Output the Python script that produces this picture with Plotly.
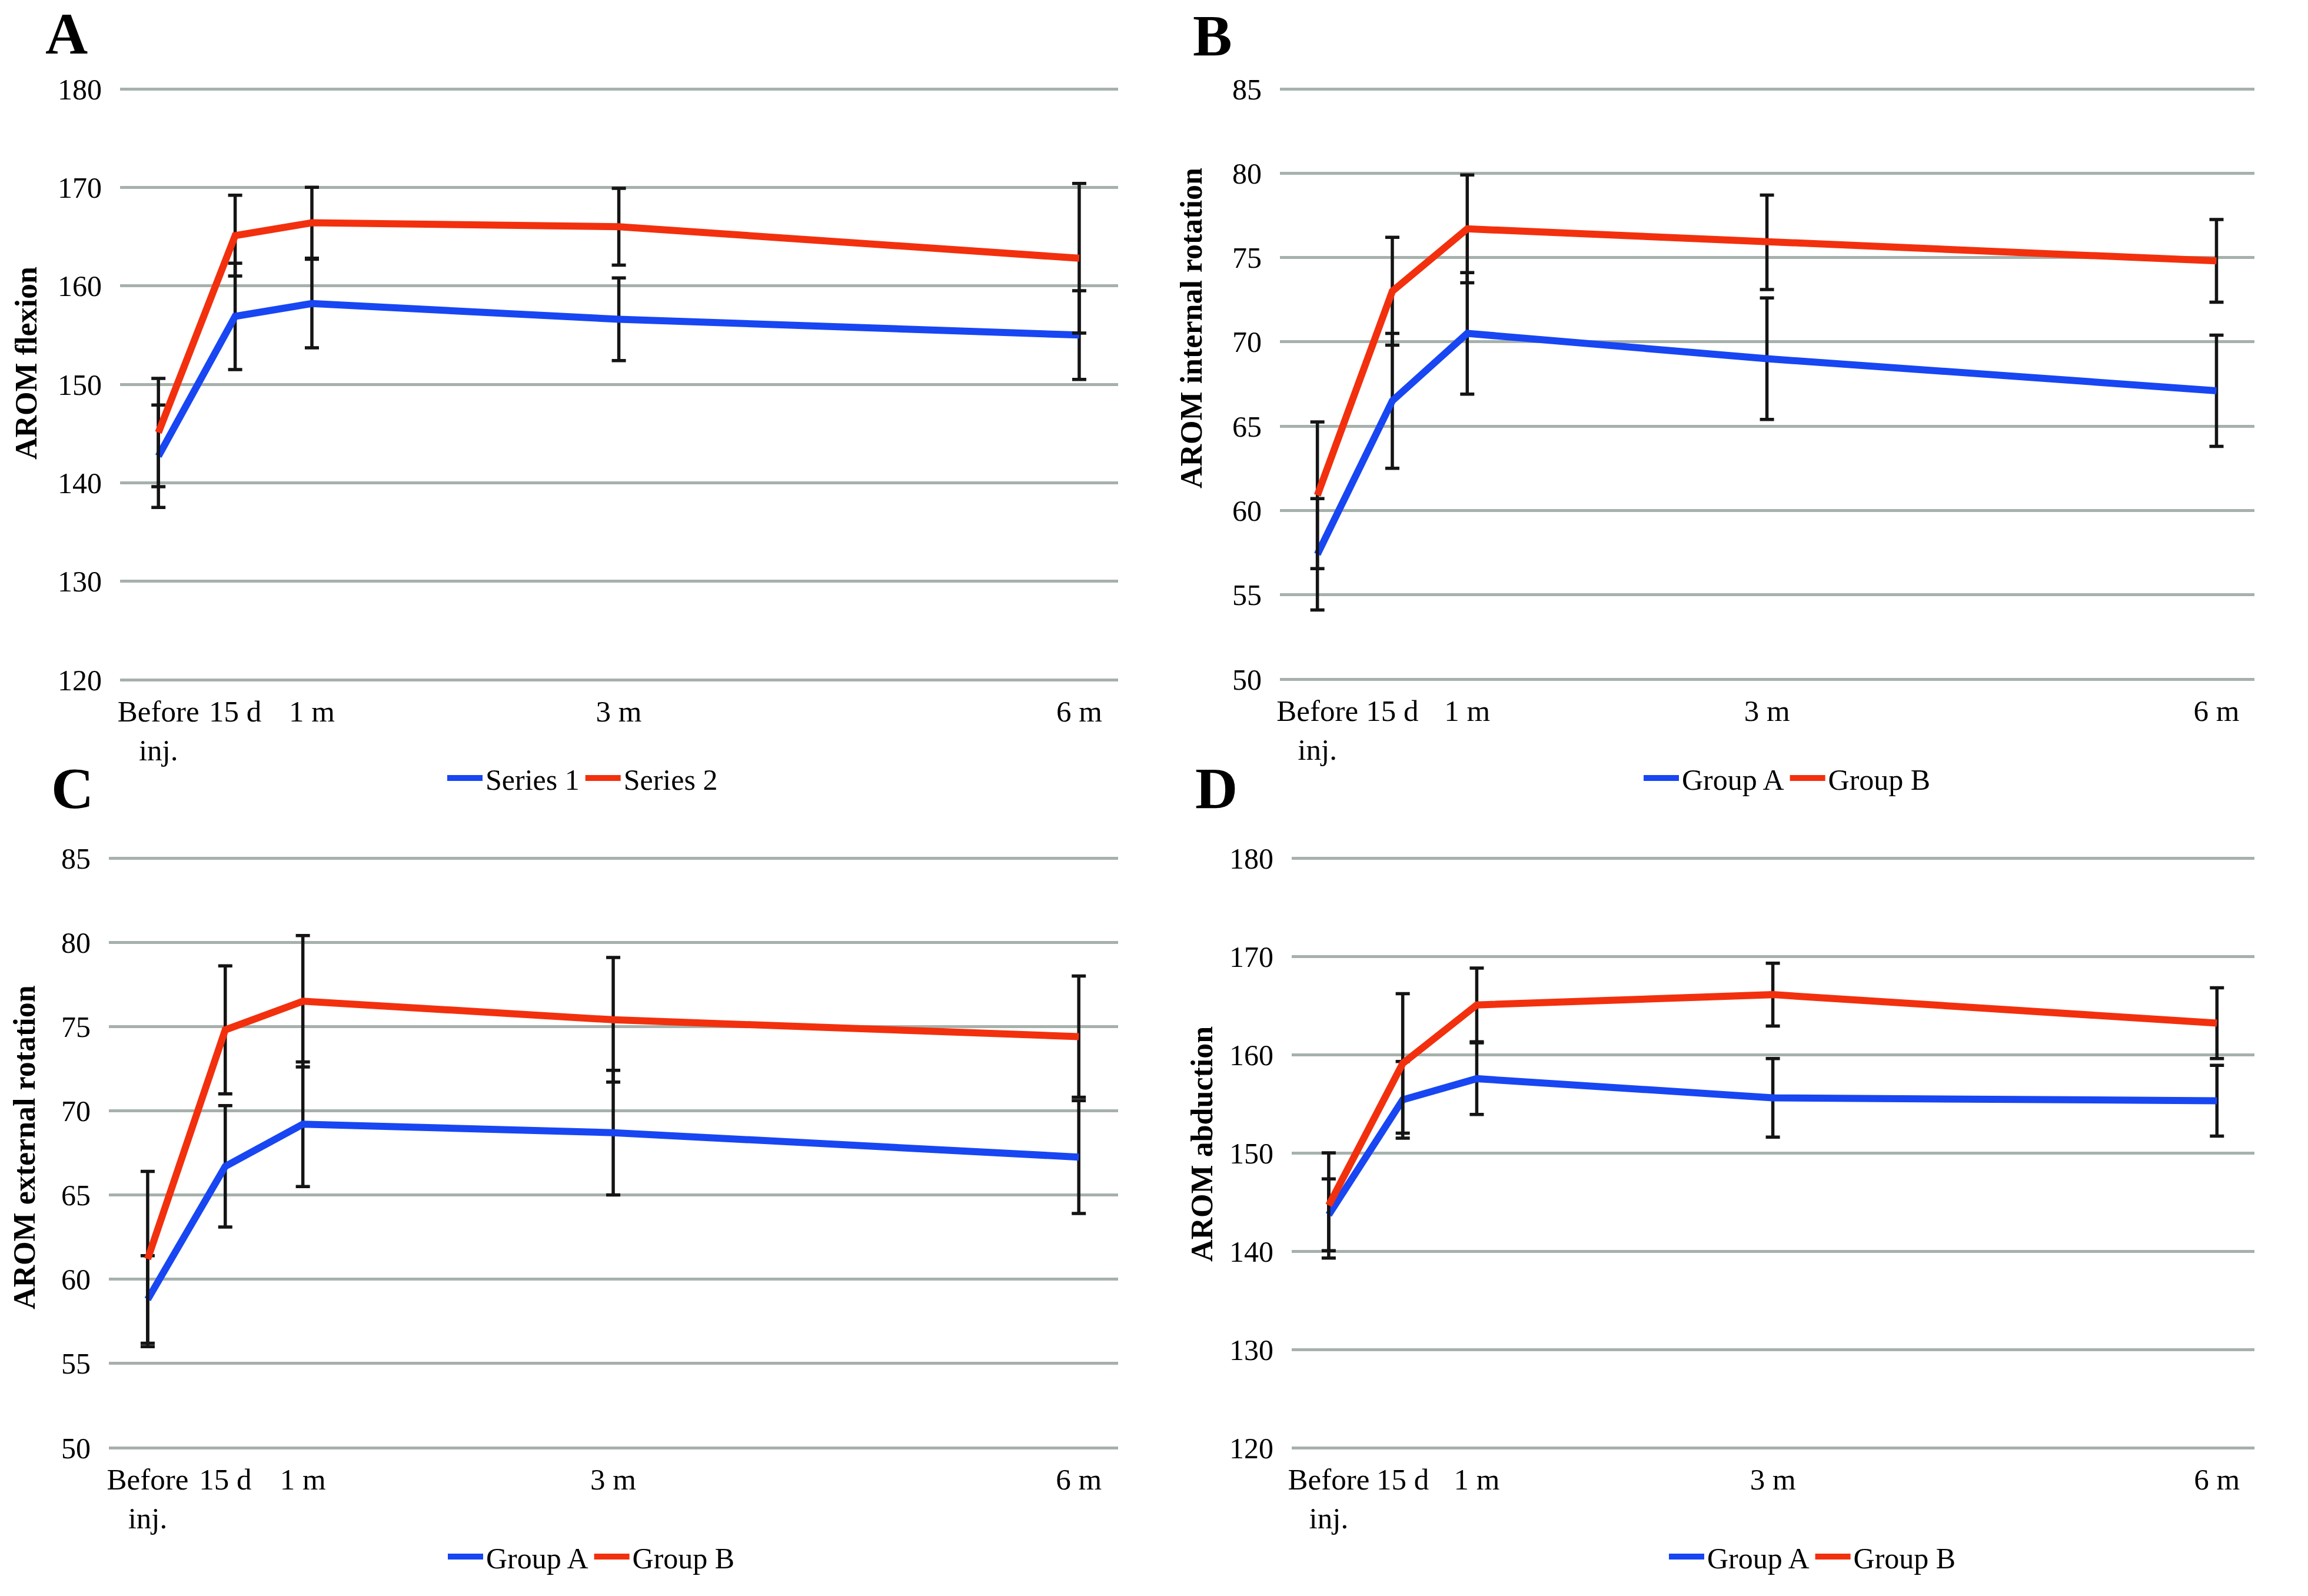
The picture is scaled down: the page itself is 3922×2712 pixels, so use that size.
import plotly.graph_objects as go

# ---------------- data ----------------
days = [0, 15, 30, 90, 180]
tick_labels = ["Before<br>inj.", "15 d", "1 m", "3 m", "6 m"]

# Panel A - AROM flexion
a_series1 = [142.7, 156.9, 158.2, 156.6, 155.0]
a_series1_err = [5.2, 5.4, 4.5, 4.2, 4.5]
a_series2 = [145.1, 165.1, 166.4, 166.0, 162.8]
a_series2_err = [5.5, 4.1, 3.6, 3.9, 7.6]

# Panel B - AROM internal rotation
b_group_a = [57.4, 66.5, 70.5, 69.0, 67.1]
b_group_a_err = [3.3, 4.0, 3.6, 3.6, 3.3]
b_group_b = [60.9, 73.0, 76.7, 75.9, 74.8]
b_group_b_err = [4.35, 3.2, 3.2, 2.8, 2.45]

# Panel C - AROM external rotation
c_group_a = [58.8, 66.7, 69.2, 68.7, 67.25]
c_group_a_err = [2.6, 3.6, 3.7, 3.7, 3.35]
c_group_b = [61.2, 74.8, 76.5, 75.4, 74.4]
c_group_b_err = [5.2, 3.8, 3.9, 3.7, 3.6]

# Panel D - AROM abduction
d_group_a = [143.7, 155.4, 157.55, 155.6, 155.3]
d_group_a_err = [3.65, 3.9, 3.65, 4.0, 3.6]
d_group_b = [144.65, 159.1, 165.05, 166.1, 163.2]
d_group_b_err = [5.35, 7.1, 3.75, 3.2, 3.6]

panel_letters = ["A", "B", "C", "D"]
y_titles = ["AROM flexion", "AROM internal rotation", "AROM external rotation", "AROM abduction"]
names_a = ["Series 1", "Series 2"]
names_bcd = ["Group A", "Group B"]

# ---------------- styling ----------------
W, H = 3922, 2712
BLUE = "#1846F2"
RED = "#F2300E"
GRID = "#A6B1AC"
ERR = "#141414"
FONT = "Liberation Serif"
PAD = 5  # px of padding so that edge gridlines are drawn


def px_x(p):
    return p / W


def px_y(p):
    return 1 - p / H


panels = [
    dict(data=(a_series1, a_series1_err, a_series2, a_series2_err), names=names_a,
         xdom=(204, 1900), ydom=(151, 1155), yr=(120, 180), dt=10,
         leg=(990, 1322), letter=(75, 57), title=(44, 617)),
    dict(data=(b_group_a, b_group_a_err, b_group_b, b_group_b_err), names=names_bcd,
         xdom=(2175, 3831), ydom=(151, 1154), yr=(50, 85), dt=5,
         leg=(3037, 1322), letter=(2025, 61), title=(2024, 557)),
    dict(data=(c_group_a, c_group_a_err, c_group_b, c_group_b_err), names=names_bcd,
         xdom=(185, 1900), ydom=(1458, 2460), yr=(50, 85), dt=5,
         leg=(1005, 2645), letter=(85, 1340), title=(42, 1950)),
    dict(data=(d_group_a, d_group_a_err, d_group_b, d_group_b_err), names=names_bcd,
         xdom=(2195, 3831), ydom=(1458, 2460), yr=(120, 180), dt=10,
         leg=(3080, 2645), letter=(2029, 1340), title=(2042, 1944)),
]

fig = go.Figure()
layout = dict(
    width=W, height=H,
    margin=dict(l=0, r=0, t=0, b=0, autoexpand=False),
    paper_bgcolor="white", plot_bgcolor="white",
    font=dict(family=FONT, size=50, color="black"),
    showlegend=True,
)
annotations = []

for i, p in enumerate(panels):
    k = "" if i == 0 else str(i + 1)
    xa, ya = "x" + k, "y" + k
    leg = "legend" + k
    s1, e1, s2, e2 = p["data"]
    for vals, errs, name, col in ((s1, e1, p["names"][0], BLUE), (s2, e2, p["names"][1], RED)):
        fig.add_trace(go.Scatter(
            x=days, y=vals, name=name, mode="lines",
            line=dict(color=col, width=12),
            error_y=dict(type="data", array=errs, visible=True,
                         color=ERR, thickness=5.5, width=12),
            xaxis=xa, yaxis=ya, legend=leg,
        ))
    top, bot = p["ydom"]
    lo, hi = p["yr"]
    upp = (hi - lo) / (bot - top)
    layout["xaxis" + k] = dict(
        domain=[px_x(p["xdom"][0]), px_x(p["xdom"][1])],
        range=[-7.5, 187.6], anchor=ya, automargin=False,
        tickmode="array", tickvals=days, ticktext=tick_labels,
        showgrid=False, zeroline=False, showline=False, ticks="",
        tickfont=dict(family=FONT, size=51, color="black"),
        ticklabelstandoff=14,
    )
    layout["yaxis" + k] = dict(
        domain=[px_y(bot + PAD), px_y(top - PAD)],
        range=[lo - PAD * upp, hi + PAD * upp], anchor=xa, automargin=False,
        tickmode="linear", dtick=p["dt"], tick0=0,
        showgrid=True, gridcolor=GRID, gridwidth=5,
        zeroline=False, showline=False, ticks="",
        tickfont=dict(family=FONT, size=50, color="black"),
        ticklabelstandoff=30,
    )
    layout[leg] = dict(
        orientation="h", x=px_x(p["leg"][0]), y=px_y(p["leg"][1]),
        xanchor="center", yanchor="middle",
        font=dict(family=FONT, size=50, color="black"),
        bgcolor="rgba(0,0,0,0)", itemwidth=60, tracegroupgap=0,
    )
    annotations.append(dict(
        text=panel_letters[i], xref="paper", yref="paper",
        x=px_x(p["letter"][0]), y=px_y(p["letter"][1]),
        xanchor="left", yanchor="middle", showarrow=False,
        font=dict(family=FONT, size=100, color="black", weight="bold"),
    ))
    annotations.append(dict(
        text=y_titles[i], xref="paper", yref="paper",
        x=px_x(p["title"][0]), y=px_y(p["title"][1]),
        xanchor="center", yanchor="middle", showarrow=False, textangle=-90,
        font=dict(family=FONT, size=52, color="black", weight="bold"),
    ))

layout["annotations"] = annotations
fig.update_layout(**layout)
fig.write_html("out.html")
